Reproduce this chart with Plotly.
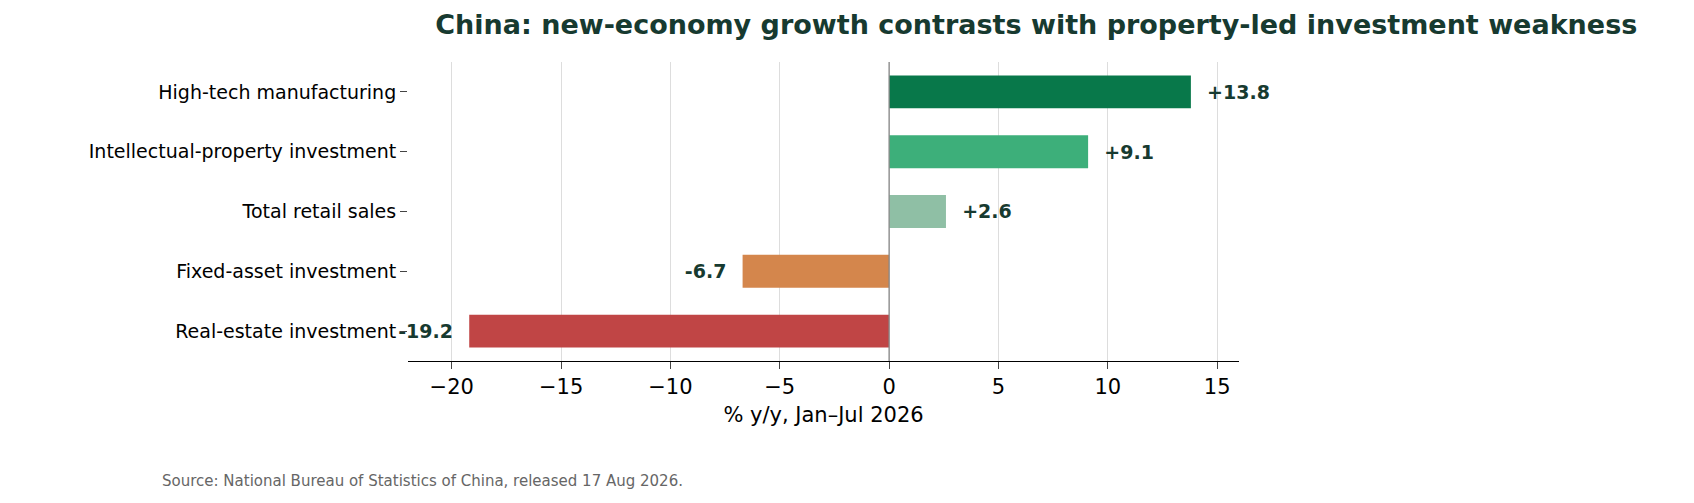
import plotly.graph_objects as go

categories = ["High-tech manufacturing", "Intellectual-property investment",
              "Total retail sales", "Fixed-asset investment", "Real-estate investment"]
values = [13.8, 9.1, 2.6, -6.7, -19.2]
colors = ["#08784a", "#3daf7a", "#8fbfa5", "#d4864c", "#c04545"]
labels = [f"  {v:+.1f}" if v > 0 else f"{v:+.1f}  " for v in values]

fig = go.Figure(go.Bar(
    x=values, y=categories, orientation="h", width=0.55,
    marker=dict(color=colors, line=dict(width=0)),
    text=labels, textposition="outside", cliponaxis=False,
    textfont=dict(family="DejaVu Sans", size=19, color="#173a30", weight="bold"),
    hoverinfo="x+y",
))

fig.add_vline(x=0, line=dict(color="#888888", width=1.3))

fig.update_layout(
    width=1694, height=503,
    margin=dict(l=400, r=463, t=54, b=150),
    plot_bgcolor="white", paper_bgcolor="white",
    font=dict(family="DejaVu Sans", size=19, color="black"),
    showlegend=False,
    title=dict(text="<b>China: new-economy growth contrasts with property-led investment weakness</b>",
               x=0.607, xanchor="center", y=0.985, yanchor="top",
               font=dict(size=27, color="#173a30")),
    xaxis=dict(range=[-22, 16], tickvals=[-20, -15, -10, -5, 0, 5, 10, 15],
               ticktext=["\u221220", "\u221215", "\u221210", "\u22125", "0", "5", "10", "15"],
               showgrid=True, gridcolor="#dddddd", zeroline=False,
               showline=True, linecolor="black", linewidth=1.3,
               ticks="outside", ticklen=7, tickfont=dict(size=21),
               title=dict(text="% y/y, Jan\u2013Jul 2026", font=dict(size=21), standoff=8)),
    yaxis=dict(categoryorder="array", categoryarray=categories[::-1],
               showgrid=False, zeroline=False, ticks="outside", ticklen=7,
               tickfont=dict(size=19), range=[-0.5, 4.5]),
    annotations=[dict(text="Source: National Bureau of Statistics of China, released 17 Aug 2026.",
                      xref="paper", yref="paper", x=-0.298, y=-0.40, xanchor="left", yanchor="middle",
                      showarrow=False, font=dict(size=15, color="#666666"))],
)

fig.write_html("out.html")
